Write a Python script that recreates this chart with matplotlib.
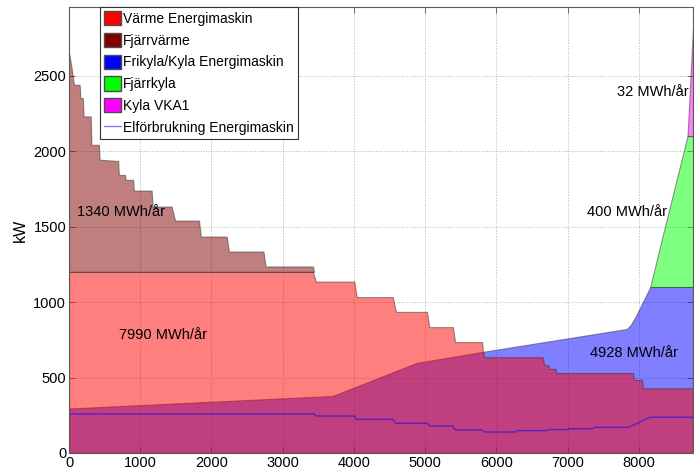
import numpy as np
import matplotlib
matplotlib.use('Agg')
import matplotlib.pyplot as plt
from matplotlib.patches import Patch
from matplotlib.lines import Line2D
from matplotlib import font_manager

# Varaktighetskurva värme (timmar sorterade, kW)
heat_h = [0, 40, 70, 150, 160, 195, 205, 305, 315, 420, 430, 690, 700, 785, 795, 900,
          910, 1160, 1175, 1440, 1490, 1825, 1850, 2215, 2245, 2730, 2760, 3425, 3465,
          4005, 4040, 4545, 4590, 5025, 5060, 5390, 5420, 5800, 5812, 5830, 6650, 6670,
          6730, 6740, 6830, 6845, 7920, 7930, 8045, 8055, 8760]
heat_kw = [2655, 2540, 2440, 2440, 2352, 2352, 2230, 2230, 2042, 2042, 1943, 1935, 1843,
           1843, 1810, 1810, 1739, 1739, 1633, 1633, 1540, 1540, 1434, 1434, 1335, 1335,
           1236, 1236, 1136, 1136, 1033, 1033, 935, 935, 834, 834, 735, 735, 672, 635,
           635, 583, 583, 557, 557, 530, 530, 484, 484, 429, 429]

# Varaktighetskurva kyla (kW)
cool_h = [0, 3700, 4880, 5830, 7830, 7880, 7950, 8160, 8320, 8683, 8760]
cool_kw = [295, 378, 597, 672, 822, 845, 900, 1100, 1412, 2100, 2820]

# Elförbrukning energimaskin (kW)
el_h = [0, 3445, 3465, 4005, 4040, 4545, 4590, 5035, 5060, 5390, 5420, 5795, 5830, 6280,
        6290, 6710, 6720, 7010, 7020, 7360, 7370, 7850, 7930, 8160, 8760]
el_kw = [259, 259, 245, 245, 223, 223, 197, 197, 179, 179, 153, 153, 139, 139, 148, 148,
         155, 155, 161, 161, 170, 170, 186, 237, 237]

# Effekter som täcks av energimaskin resp. fjärrkyla
varme_max = 1200
kyla_max = 1100
fjarrkyla_max = 2100

names = ['Värme Energimaskin', 'Fjärrvärme', 'Frikyla/Kyla Energimaskin',
         'Fjärrkyla', 'Kyla VKA1', 'Elförbrukning Energimaskin']

installed = {f.name for f in font_manager.fontManager.ttflist}
if 'Liberation Sans Narrow' in installed:
    plt.rcParams['font.family'] = ['Liberation Sans Narrow', 'DejaVu Sans']
    fs, leg_fs = 11.5, 11.5
else:
    plt.rcParams['font.family'] = ['Liberation Sans', 'DejaVu Sans']
    fs, leg_fs = 10.5, 10

heat_h = np.array(heat_h)
heat_kw = np.array(heat_kw)
cool_h = np.array(cool_h)
cool_kw = np.array(cool_kw)

fig = plt.figure(figsize=(6.94, 4.75), dpi=100)
ax = fig.add_axes([69 / 694, 22 / 475, 624 / 694, 446 / 475])

edge = dict(edgecolor='0.2', linewidth=0.8)

# kyla först, värme ovanpå (halvtransparent)
ax.fill_between(cool_h, 0, np.minimum(cool_kw, kyla_max), facecolor='blue', alpha=0.5, **edge)
ax.fill_between(cool_h, kyla_max, np.minimum(cool_kw, fjarrkyla_max), where=cool_kw >= kyla_max,
                facecolor='lime', alpha=0.5, **edge)
ax.fill_between(cool_h, fjarrkyla_max, cool_kw, where=cool_kw >= fjarrkyla_max,
                facecolor='magenta', alpha=0.5, **edge)
ax.fill_between(heat_h, 0, np.minimum(heat_kw, varme_max), facecolor='red', alpha=0.5, **edge)
ax.fill_between(heat_h, varme_max, heat_kw, where=heat_kw >= varme_max, interpolate=True,
                facecolor=(0.5, 0, 0), alpha=0.5, **edge)
ax.plot(el_h, el_kw, color='blue', alpha=0.5, linewidth=1)

ax.text(110, 1600, '1340 MWh/år', fontsize=fs, va='center')
ax.text(1320, 780, '7990 MWh/år', fontsize=fs, va='center', ha='center')
ax.text(7935, 665, '4928 MWh/år', fontsize=fs, va='center', ha='center')
ax.text(7840, 1600, '400 MWh/år', fontsize=fs, va='center', ha='center')
ax.text(8200, 2395, '32 MWh/år', fontsize=fs, va='center', ha='center')

ax.set_xlim(0, 8760)
ax.set_ylim(0, 2955)
ax.set_xticks(np.arange(0, 8001, 1000))
ax.set_yticks(np.arange(0, 2501, 500))
ax.grid(True, linestyle=':', color='0.7', linewidth=0.7)
ax.set_axisbelow(True)
ax.tick_params(direction='in', length=4, width=0.6, color='0.35', labelsize=fs,
               top=True, right=True, pad=2)
for s in ax.spines.values():
    s.set_color('0.35')
    s.set_linewidth(0.8)
ax.set_ylabel('kW', fontsize=fs + 1, labelpad=4)

handles = [Patch(facecolor='red', edgecolor='0.3'),
           Patch(facecolor=(0.5, 0, 0), edgecolor='0.3'),
           Patch(facecolor='blue', edgecolor='0.3'),
           Patch(facecolor='lime', edgecolor='0.3'),
           Patch(facecolor='magenta', edgecolor='0.3'),
           Line2D([], [], color='blue', alpha=0.5, linewidth=1)]
leg = ax.legend(handles, names, loc='upper left', bbox_to_anchor=(0.05, 1.0), fontsize=leg_fs,
                fancybox=False, framealpha=1, edgecolor='0.2', borderaxespad=0,
                borderpad=0.3, labelspacing=0.5, handlelength=1.2, handleheight=1.2,
                handletextpad=0.15)
leg.get_frame().set_linewidth(0.8)

fig.savefig('out.png', dpi=100)
